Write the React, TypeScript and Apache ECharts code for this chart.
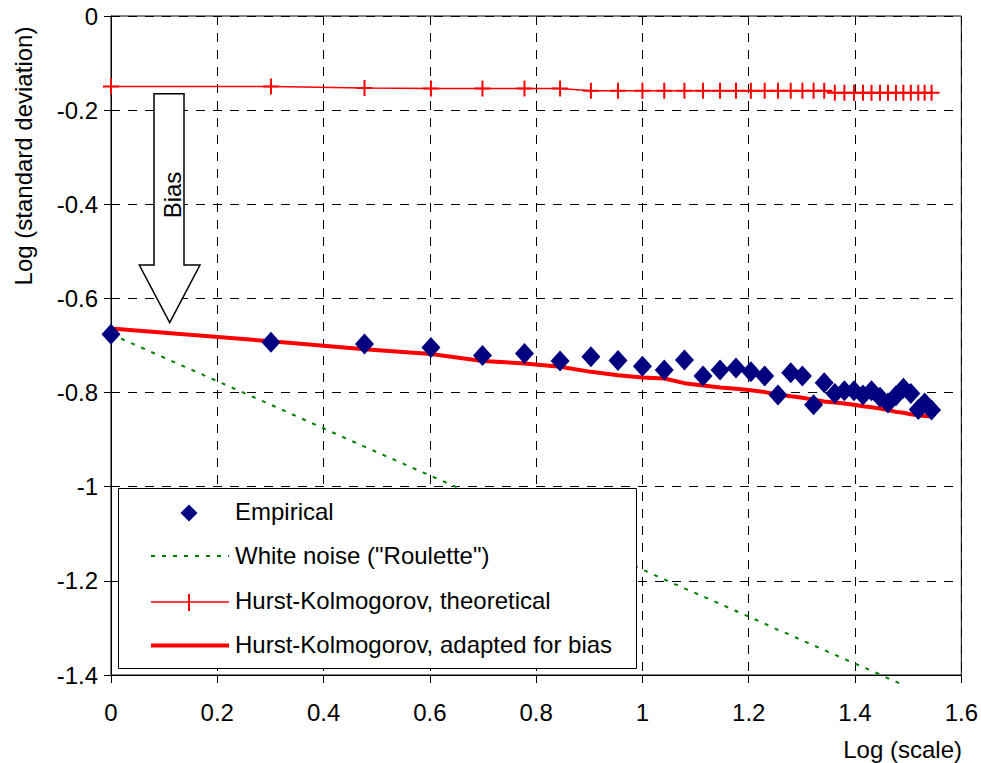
import React, { useEffect, useRef } from "react";
import * as echarts from "echarts";

// x = Log (scale), scales k = 1..35
const logScale = [
  0, 0.301, 0.477, 0.602, 0.699, 0.778, 0.845, 0.903, 0.954, 1.0,
  1.041, 1.079, 1.114, 1.146, 1.176, 1.204, 1.23, 1.255, 1.279, 1.301,
  1.322, 1.342, 1.362, 1.38, 1.398, 1.415, 1.431, 1.447, 1.462, 1.477,
  1.491, 1.505, 1.519, 1.531, 1.544,
];

const empirical = [
  -0.676, -0.693, -0.697, -0.704, -0.721, -0.717, -0.733, -0.724, -0.732, -0.744,
  -0.752, -0.731, -0.765, -0.752, -0.748, -0.756, -0.765, -0.805, -0.758, -0.765,
  -0.826, -0.779, -0.802, -0.796, -0.796, -0.805, -0.796, -0.81, -0.822, -0.807,
  -0.791, -0.802, -0.836, -0.822, -0.837,
];

// white noise: first 31 scales
const whiteNoise = [
  -0.676, -0.826, -0.915, -0.977, -1.025, -1.065, -1.099, -1.128, -1.153, -1.176,
  -1.197, -1.216, -1.233, -1.249, -1.264, -1.278, -1.291, -1.304, -1.315, -1.327,
  -1.337, -1.347, -1.357, -1.366, -1.375, -1.383, -1.391, -1.399, -1.407, -1.414,
  -1.422,
];

const hkTheoretical = [
  -0.15, -0.15, -0.153, -0.154, -0.154, -0.154, -0.154, -0.159, -0.159, -0.159,
  -0.159, -0.159, -0.159, -0.159, -0.159, -0.159, -0.159, -0.159, -0.159, -0.159,
  -0.159, -0.159, -0.163, -0.163, -0.163, -0.163, -0.163, -0.163, -0.163, -0.163,
  -0.163, -0.163, -0.163, -0.163, -0.163,
];

const hkAdapted = [
  -0.664, -0.691, -0.708, -0.718, -0.733, -0.738, -0.745, -0.756, -0.763, -0.768,
  -0.77, -0.78, -0.785, -0.789, -0.792, -0.795, -0.799, -0.804, -0.808, -0.811,
  -0.815, -0.819, -0.821, -0.823, -0.826, -0.829, -0.831, -0.834, -0.837, -0.841,
  -0.843, -0.846, -0.848, -0.85, -0.851,
];

const legendNames = [
  "Empirical",
  'White noise ("Roulette")',
  "Hurst-Kolmogorov, theoretical",
  "Hurst-Kolmogorov, adapted for bias",
];

const FONT = "'Liberation Sans', Arial, Helvetica, sans-serif";
const NAVY = "#000080";
const RED = "#FF0000";
const GREEN = "#008000";

const pairs = (ys: number[]) => ys.map((y, i) => [logScale[i], y]);

const PLUS =
  "path://M-1,-8L1,-8L1,-1L8,-1L8,1L1,1L1,8L-1,8L-1,1L-8,1L-8,-1L-1,-1Z";

export default function App() {
  const ref = useRef<HTMLDivElement>(null);

  useEffect(() => {
    if (!ref.current) return;
    const chart = echarts.init(ref.current, null, { renderer: "svg" });

    const rowY = [511, 555, 600, 644];
    const textStyle = (i: number) => ({
      type: "text",
      x: 235,
      y: rowY[i],
      z: 101,
      style: {
        text: legendNames[i],
        fontSize: 24,
        fontFamily: FONT,
        fill: "#000",
        align: "left",
        verticalAlign: "middle",
      },
    });

    chart.setOption({
      animation: false,
      backgroundColor: "#fff",
      grid: {
        left: 111,
        top: 16,
        right: 19,
        bottom: 88,
        show: true,
        borderColor: "#000",
        borderWidth: 1,
        backgroundColor: "transparent",
      },
      xAxis: {
        type: "value",
        min: 0,
        max: 1.6,
        interval: 0.2,
        axisLine: { onZero: false, lineStyle: { color: "#000", width: 1 } },
        axisTick: { show: true, length: 8, lineStyle: { color: "#000" } },
        axisLabel: {
          color: "#000",
          fontSize: 24,
          fontFamily: FONT,
          margin: 25,
        },
        splitLine: {
          show: true,
          lineStyle: { color: "#000", width: 1, type: [9, 8] },
        },
      },
      yAxis: {
        type: "value",
        min: -1.4,
        max: 0,
        interval: 0.2,
        axisLine: { onZero: false, lineStyle: { color: "#000", width: 1 } },
        axisTick: { show: true, length: 7, lineStyle: { color: "#000" } },
        axisLabel: {
          color: "#000",
          fontSize: 24,
          fontFamily: FONT,
          margin: 13,
        },
        splitLine: {
          show: true,
          lineStyle: { color: "#000", width: 1, type: [9, 8] },
        },
      },
      series: [
        {
          name: legendNames[1],
          type: "line",
          data: pairs(whiteNoise),
          showSymbol: false,
          symbol: "none",
          clip: false,
          z: 2,
          lineStyle: { color: GREEN, width: 2, type: [4, 7] },
        },
        {
          name: legendNames[2],
          type: "line",
          data: pairs(hkTheoretical),
          symbol: PLUS,
          symbolSize: 16,
          showAllSymbol: true,
          z: 3,
          itemStyle: { color: RED },
          lineStyle: { color: RED, width: 1.5 },
        },
        {
          name: legendNames[3],
          type: "line",
          data: pairs(hkAdapted),
          showSymbol: false,
          symbol: "none",
          z: 4,
          lineStyle: { color: RED, width: 4 },
        },
        {
          name: legendNames[0],
          type: "scatter",
          data: pairs(empirical),
          symbol: "diamond",
          symbolSize: [19, 21],
          z: 5,
          itemStyle: { color: NAVY, opacity: 1 },
        },
      ],
      graphic: [
        // Bias arrow
        {
          type: "polygon",
          z: 90,
          shape: {
            points: [
              [154, 93.7],
              [184, 93.7],
              [184, 265],
              [200, 265],
              [169.7, 322.7],
              [139.3, 265],
              [154, 265],
            ],
          },
          style: { fill: "#fff", stroke: "#000", lineWidth: 1.5 },
        },
        {
          type: "text",
          x: 172,
          y: 195,
          z: 91,
          rotation: Math.PI / 2,
          style: {
            text: "Bias",
            fontSize: 24,
            fontFamily: FONT,
            fill: "#000",
            align: "center",
            verticalAlign: "middle",
          },
        },
        // axis names
        {
          type: "text",
          x: 23,
          y: 156,
          rotation: Math.PI / 2,
          style: {
            text: "Log (standard deviation)",
            fontSize: 24,
            fontFamily: FONT,
            fill: "#000",
            align: "center",
            verticalAlign: "middle",
          },
        },
        {
          type: "text",
          x: 962,
          y: 749,
          style: {
            text: "Log (scale)",
            fontSize: 24,
            fontFamily: FONT,
            fill: "#000",
            align: "right",
            verticalAlign: "middle",
          },
        },
        // legend box
        {
          type: "rect",
          z: 100,
          shape: { x: 118.5, y: 488.5, width: 518, height: 180 },
          style: { fill: "#fff", stroke: "#000", lineWidth: 1 },
        },
        {
          type: "polygon",
          z: 101,
          shape: {
            points: [
              [189, 504.5],
              [197.5, 513],
              [189, 521.5],
              [180.5, 513],
            ],
          },
          style: { fill: NAVY },
        },
        {
          type: "line",
          z: 101,
          shape: { x1: 151, y1: 556, x2: 229, y2: 556 },
          style: { stroke: GREEN, lineWidth: 2, lineDash: [4, 7] },
        },
        {
          type: "line",
          z: 101,
          shape: { x1: 151, y1: 602, x2: 229, y2: 602 },
          style: { stroke: RED, lineWidth: 1.5 },
        },
        {
          type: "line",
          z: 101,
          shape: { x1: 189, y1: 594, x2: 189, y2: 611 },
          style: { stroke: RED, lineWidth: 2 },
        },
        {
          type: "line",
          z: 101,
          shape: { x1: 151, y1: 645.5, x2: 229, y2: 645.5 },
          style: { stroke: RED, lineWidth: 4 },
        },
        textStyle(0),
        textStyle(1),
        textStyle(2),
        textStyle(3),
      ],
    });

    return () => chart.dispose();
  }, []);

  return (
    <div
      ref={ref}
      style={{ position: "fixed", left: 0, top: 0, width: 981, height: 763 }}
    />
  );
}
